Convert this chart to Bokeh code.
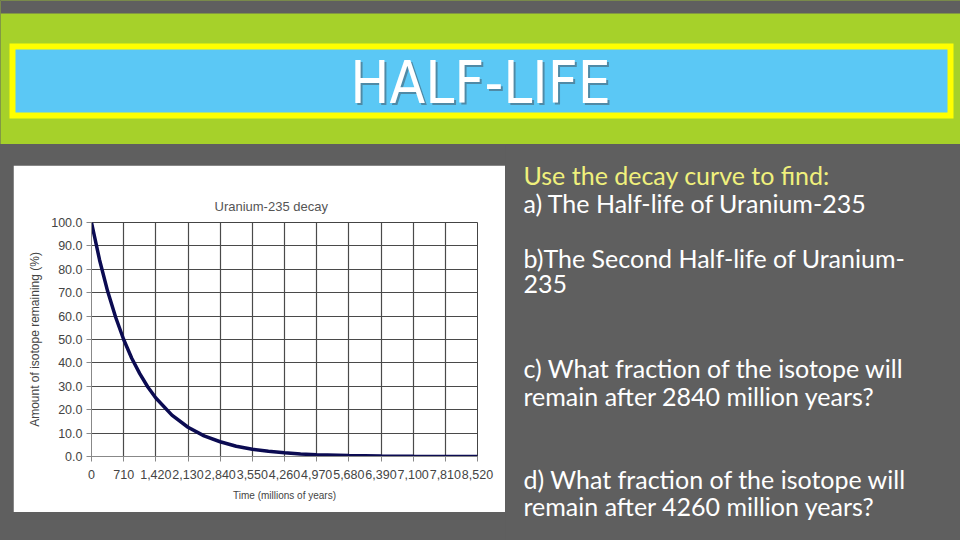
from bokeh.plotting import figure
from bokeh.layouts import column, row
from bokeh.models import Spacer, FixedTicker, NumeralTickFormatter
from bokeh.core.properties import value
from bokeh.embed import file_html
from bokeh.resources import INLINE

# ---------------- data ----------------
slide_title = "HALF-LIFE"
chart_title = "Uranium-235 decay"
x_label = "Time (millions of years)"
y_label = "Amount of isotope remaining (%)"
x_ticks = [0, 710, 1420, 2130, 2840, 3550, 4260, 4970, 5680, 6390, 7100, 7810, 8520]
y_ticks = [0, 10, 20, 30, 40, 50, 60, 70, 80, 90, 100]
time_myr = [0, 178, 355, 533, 710, 888, 1065, 1243, 1420, 1775, 2130, 2485, 2840,
            3195, 3550, 3905, 4260, 4615, 4970, 5680, 6390, 7100, 7810, 8520]
remaining = [100, 84, 70.7, 59.5, 50, 42, 35.4, 29.7, 25, 17.7, 12.5, 8.8, 6.3,
             4.4, 3.1, 2.2, 1.6, 1.1, 0.8, 0.4, 0.2, 0.1, 0.05, 0.0]
prompt = "Use the decay curve to find:"
questions = [
    "a) The Half-life of Uranium-235",
    "b)The Second Half-life of Uranium-",
    "235",
    "c) What fraction of the isotope will",
    "remain after 2840 million years?",
    "d) What fraction of the isotope will",
    "remain after 4260 million years?",
]

GRAY = "#5f5f5f"
GREEN = "#a6d12a"
BLUE = "#5bc8f5"
YELLOW = "#ffff00"
TITLE_FONT = value("'DejaVu Sans Condensed', sans-serif")

# ---------------- top band ----------------
band = figure(width=960, height=144, x_range=(0, 960), y_range=(144, 0),
              output_backend="svg", toolbar_location=None, min_border=0)
band.axis.visible = False
band.grid.visible = False
band.outline_line_color = None
band.background_fill_color = GREEN
band.border_fill_color = GREEN
band.quad(left=[0], right=[960], top=[0], bottom=[13], fill_color=GRAY, line_color=None)
band.quad(left=[9], right=[953], top=[43], bottom=[118], fill_color=YELLOW, line_color=None)
band.quad(left=[15], right=[947], top=[49], bottom=[112], fill_color=BLUE, line_color=None)
band.text(x=[482], y=[84], text=[slide_title], text_align="center", text_baseline="alphabetic",
          text_font=TITLE_FONT, text_font_size="58px", text_color="#4f8aa6")
band.text(x=[480], y=[82], text=[slide_title], text_align="center", text_baseline="alphabetic",
          text_font=TITLE_FONT, text_font_size="58px", text_color="#ffffff")

# ---------------- chart ----------------
ch = figure(width=492, height=347, x_range=(0, 8520), y_range=(0, 100),
            output_backend="svg", toolbar_location=None,
            min_border_left=78, min_border_right=28, min_border_top=57, min_border_bottom=56)
ch.background_fill_color = "white"
ch.border_fill_color = "white"
ch.outline_line_color = "#444444"
ch.title.text = chart_title
ch.title.align = "left"
ch.title.offset = 123
ch.title.standoff = 18
ch.title.text_font = "Liberation Sans"
ch.title.text_font_size = "13px"
ch.title.text_font_style = "normal"
ch.title.text_color = "#555555"
ch.line(time_myr, remaining, line_color="#0b0b52", line_width=3.5)

ch.xaxis.ticker = FixedTicker(ticks=x_ticks)
ch.yaxis.ticker = FixedTicker(ticks=y_ticks)
ch.xaxis.formatter = NumeralTickFormatter(format="0,0")
ch.yaxis.formatter = NumeralTickFormatter(format="0.0")
ch.xaxis.axis_label = x_label
ch.yaxis.axis_label = y_label
for ax in (ch.xaxis, ch.yaxis):
    ax.major_label_text_font = "Liberation Sans"
    ax.major_label_text_font_size = "12.5px"
    ax.major_label_text_color = "#444444"
    ax.axis_label_text_font = "Liberation Sans"
    ax.axis_label_text_font_style = "normal"
    ax.axis_label_text_color = "#444444"
    ax.axis_line_color = "#888888"
    ax.major_tick_line_color = "#888888"
    ax.major_tick_out = 5
    ax.major_tick_in = 0
    ax.minor_tick_line_color = None
ch.xaxis.axis_label_text_font_size = "10px"
ch.yaxis.axis_label_text_font_size = "12px"
ch.xaxis.major_label_standoff = 8
ch.xaxis.axis_label_standoff = 8
ch.yaxis.major_label_standoff = 4
ch.yaxis.axis_label_standoff = 6
ch.xgrid.grid_line_color = "#4a4a4a"
ch.ygrid.grid_line_color = "#4a4a4a"
ch.xgrid.grid_line_width = 1.2
ch.ygrid.grid_line_width = 1.2

# ---------------- text panel ----------------
tx = figure(width=455, height=396, x_range=(505, 960), y_range=(540, 144),
            output_backend="svg", toolbar_location=None, min_border=0)
tx.axis.visible = False
tx.grid.visible = False
tx.outline_line_color = None
tx.background_fill_color = GRAY
tx.border_fill_color = GRAY
font = value("Lato")
tx.text(x=[523], y=[174], text=[prompt], text_baseline="alphabetic",
        text_font=font, text_font_size="25px", text_color="#f0f07c")
tx.text(x=[523] * len(questions), y=[202, 257, 283, 367, 395, 478, 505], text=questions,
        text_baseline="alphabetic", text_font=font, text_font_size="25px", text_color="#ffffff")

bg = {"background-color": GRAY}
left = column(Spacer(width=492, height=21, styles=bg), ch, Spacer(width=492, height=28, styles=bg),
              styles=bg)
bottom = row(Spacer(width=13, height=396, styles=bg), left, tx, styles=bg)
layout = column(band, bottom, styles=bg)

open("out.html", "w").write(file_html(layout, INLINE))
